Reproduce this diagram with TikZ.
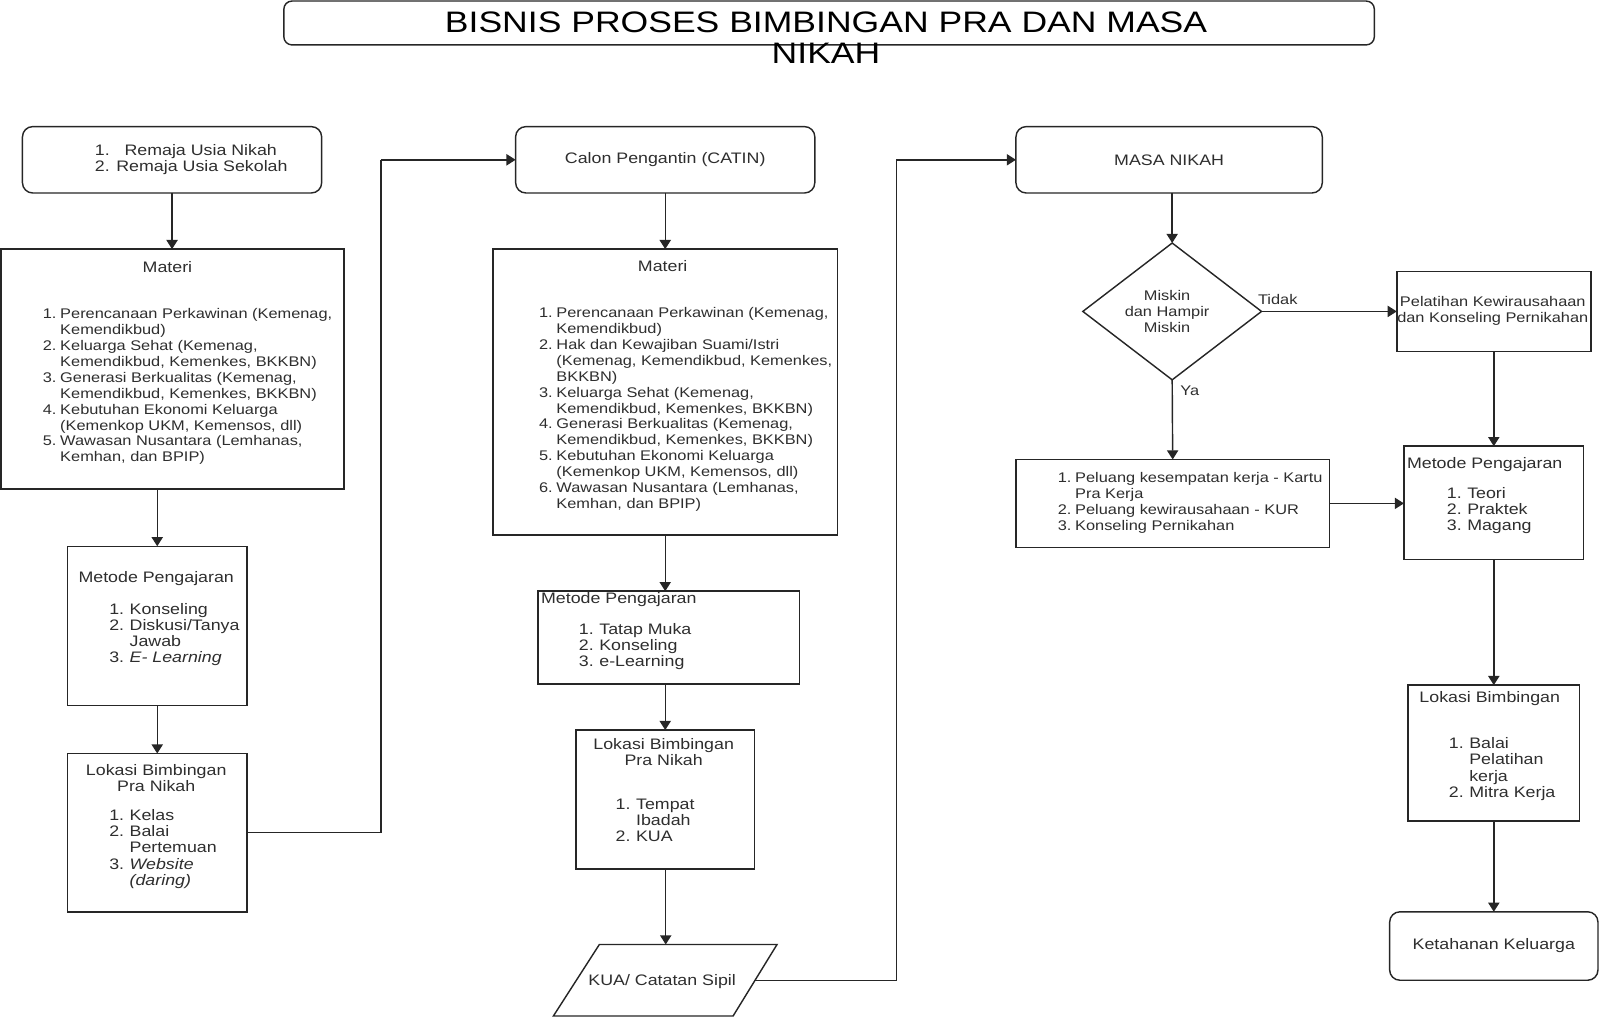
\documentclass[tikz,border=0pt]{standalone}
\usepackage{fontspec}
\setmainfont{Liberation Sans}[FakeStretch=1.17]
\newfontfamily\titlefont{Liberation Sans}[FakeStretch=1.2]
\usetikzlibrary{arrows.meta,shapes.geometric}
\newcommand\bodyfont{\fontsize{13.7}{15.6}\selectfont}
\newcommand\bigfont{\fontsize{14.9}{15.8}\selectfont}
\newcommand\Litem[2]{\makebox[17pt][l]{#1}#2}
\newcommand\Lcont[1]{\hspace*{17pt}#1}
\newcommand\Bitem[2]{\makebox[17pt][l]{\hspace*{-3pt}#1}#2}
\tikzset{
  every node/.style={inner sep=0pt, outer sep=0pt},
  box/.style={draw=black!85, line width=1.4pt, fill=white},
  rbox/.style={box, rounded corners=10pt},
  txt/.style={font=\bodyfont, text=black!82, align=left, anchor=north west},
  btxt/.style={font=\bigfont, text=black!82, align=left, anchor=north west},
  ctxt/.style={font=\bodyfont, text=black!82, align=center},
  bctxt/.style={font=\bigfont, text=black!82, align=center},
  arr/.style={draw=black!85, line width=1.4pt, -{Triangle[width=11pt,length=9pt]}},
  link/.style={draw=black!85, line width=1.4pt}
}
\begin{document}
\begin{tikzpicture}[x=1pt,y=-1pt]
\useasboundingbox (0,0) rectangle (1567,996);

% title
\node[rbox, rounded corners=8pt, minimum width=1068pt, minimum height=43pt] (title) at (812,22.5) {};
\node[font=\titlefont\fontsize{29}{30}\selectfont, text=black, align=center] (titletext) at (809,37) {BISNIS PROSES BIMBINGAN PRA DAN MASA\\NIKAH};

% ---------- left column ----------
\node[rbox, minimum width=293pt, minimum height=65pt] (a1) at (168.5,156.5) {};
\node[btxt, anchor=base west] (a1t1) at (93,152) {\makebox[29pt][l]{1.}Remaja Usia Nikah};
\node[btxt, anchor=base west] (a1t2) at (93,168) {2. Remaja Usia Sekolah};

\node[box, minimum width=336pt, minimum height=235pt] (m1) at (169,361.5) {};
\node[bctxt] (m1h) at (164,262) {Materi};
\node[txt] (m1l) at (42,302) {\Litem{1.}{Perencanaan Perkawinan (Kemenag,}\\
\Lcont{Kemendikbud)}\\
\Litem{2.}{Keluarga Sehat (Kemenag,}\\
\Lcont{Kemendikbud, Kemenkes, BKKBN)}\\
\Litem{3.}{Generasi Berkualitas (Kemenag,}\\
\Lcont{Kemendikbud, Kemenkes, BKKBN)}\\
\Litem{4.}{Kebutuhan Ekonomi Keluarga}\\
\Lcont{(Kemenkop UKM, Kemensos, dll)}\\
\Litem{5.}{Wawasan Nusantara (Lemhanas,}\\
\Lcont{Kemhan, dan BPIP)}};

\node[box, minimum width=176pt, minimum height=156pt] (k1) at (154,613) {};
\node[bctxt] (k1h) at (153,567) {Metode Pengajaran};
\node[btxt] (k1l) at (110,591) {\Bitem{1.}{Konseling}\\
\Bitem{2.}{Diskusi/Tanya}\\
\Lcont{Jawab}\\
\Bitem{3.}{\textit{E- Learning}}};

\node[box, minimum width=176pt, minimum height=155pt] (l1) at (154,815.5) {};
\node[bctxt] (l1h) at (153,762) {Lokasi Bimbingan\\Pra Nikah};
\node[btxt] (l1l) at (110,793) {\Bitem{1.}{Kelas}\\
\Bitem{2.}{Balai}\\
\Lcont{Pertemuan}\\
\Bitem{3.}{\textit{Website}}\\
\Lcont{\textit{(daring)}}};

% ---------- middle column ----------
\node[rbox, minimum width=293pt, minimum height=65pt, font=\bigfont, text=black!82] (c2) at (651.5,156.5) {Calon Pengantin (CATIN)};

\node[box, minimum width=337pt, minimum height=280pt] (m2) at (651.5,384) {};
\node[bctxt] (m2h) at (649,261) {Materi};
\node[txt] (m2l) at (528,301) {\Litem{1.}{Perencanaan Perkawinan (Kemenag,}\\
\Lcont{Kemendikbud)}\\
\Litem{2.}{Hak dan Kewajiban Suami/Istri}\\
\Lcont{(Kemenag, Kemendikbud, Kemenkes,}\\
\Lcont{BKKBN)}\\
\Litem{3.}{Keluarga Sehat (Kemenag,}\\
\Lcont{Kemendikbud, Kemenkes, BKKBN)}\\
\Litem{4.}{Generasi Berkualitas (Kemenag,}\\
\Lcont{Kemendikbud, Kemenkes, BKKBN)}\\
\Litem{5.}{Kebutuhan Ekonomi Keluarga}\\
\Lcont{(Kemenkop UKM, Kemensos, dll)}\\
\Litem{6.}{Wawasan Nusantara (Lemhanas,}\\
\Lcont{Kemhan, dan BPIP)}};

\node[box, minimum width=256pt, minimum height=91pt] (k2) at (655,624.5) {};
\node[btxt] (k2h) at (530,580.5) {Metode Pengajaran};
\node[btxt] (k2l) at (570,610.5) {\Bitem{1.}{Tatap Muka}\\
\Bitem{2.}{Konseling}\\
\Bitem{3.}{e-Learning}};

\node[box, minimum width=175pt, minimum height=136pt] (l2) at (651.5,783) {};
\node[bctxt] (l2h) at (650,736.5) {Lokasi Bimbingan\\Pra Nikah};
\node[btxt] (l2l) at (606,782.5) {\Bitem{1.}{Tempat}\\
\Lcont{Ibadah}\\
\Bitem{2.}{KUA}};

% parallelogram
\draw[box] (542,995) -- (587,925) -- (761,925) -- (718,995) -- cycle;
\node[bctxt] (p2) at (648.5,961) {KUA/ Catatan Sipil};
\coordinate (p2n) at (652,925);
\coordinate (p2e) at (739.5,960);

% ---------- right column ----------
\node[rbox, minimum width=300pt, minimum height=65pt, font=\bigfont, text=black!82] (c3) at (1145,156.5) {MASA NIKAH};

\node[box, diamond, minimum width=175pt, minimum height=134pt] (d) at (1148,305) {};
\node[ctxt] (dt) at (1143,305) {Miskin\\dan Hampir\\Miskin};

\node[box, minimum width=190pt, minimum height=78pt] (pk) at (1463,305) {};
\node[ctxt] (pkt) at (1462,304.5) {Pelatihan Kewirausahaan\\dan Konseling Pernikahan};

\node[box, minimum width=307pt, minimum height=86pt] (pe) at (1148.5,493) {};
\node[txt] (pel) at (1036,463) {\Litem{1.}{Peluang kesempatan kerja - Kartu}\\
\Lcont{Pra Kerja}\\
\Litem{2.}{Peluang kewirausahaan - KUR}\\
\Litem{3.}{Konseling Pernikahan}};

\node[box, minimum width=176pt, minimum height=111pt] (k3) at (1463,492.5) {};
\node[btxt] (k3h) at (1378,448.5) {Metode Pengajaran};
\node[btxt] (k3l) at (1420,477.5) {\Bitem{1.}{Teori}\\
\Bitem{2.}{Praktek}\\
\Bitem{3.}{Magang}};

\node[box, minimum width=168pt, minimum height=133pt] (l3) at (1463,737.5) {};
\node[bctxt] (l3h) at (1459,684) {Lokasi Bimbingan};
\node[btxt] (l3l) at (1422,722.5) {\Bitem{1.}{Balai}\\
\Lcont{Pelatihan}\\
\Lcont{kerja}\\
\Bitem{2.}{Mitra Kerja}};

\node[rbox, minimum width=204pt, minimum height=67pt, font=\bigfont, text=black!82] (kk) at (1463,926.5) {Ketahanan Keluarga};

% ---------- connectors ----------
\coordinate (j1) at (373,0);
\coordinate (j2) at (878,0);

\draw[arr] (a1.south) -- (a1.south |- m1.north);
\draw[arr] (m1.south -| k1.north) -- (k1.north);
\draw[arr] (k1.south) -- (l1.north);
\draw[link] (l1.east) -| (j1 |- c2.west);
\draw[arr] (j1 |- c2.west) -- (c2.west);

\draw[arr] (c2.south) -- (c2.south |- m2.north);
\draw[arr] (m2.south) -- (m2.south |- k2.north);
\draw[arr] (k2.south -| l2.north) -- (l2.north);
\draw[arr] (l2.south -| p2n) -- (p2n);
\draw[link] (p2e) -| (j2 |- c3.west);
\draw[arr] (j2 |- c3.west) -- (c3.west);

\draw[arr] (c3.south -| d.north) -- (d.north);
\draw[arr] (d.east) -- node[pos=0.12, above=7pt, font=\bodyfont, text=black!82] {Tidak} (pk.west);
\draw[arr] (d.south) -- node[pos=0.14, right=8pt, font=\bodyfont, text=black!82] {Ya} (pe.north);
\draw[arr] (pk.south -| k3.north) -- (k3.north);
\draw[arr] (pe.east) -- (pe.east -| k3.west);
\draw[arr] (k3.south) -- (l3.north);
\draw[arr] (l3.south) -- (kk.north);
\end{tikzpicture}
\end{document}
